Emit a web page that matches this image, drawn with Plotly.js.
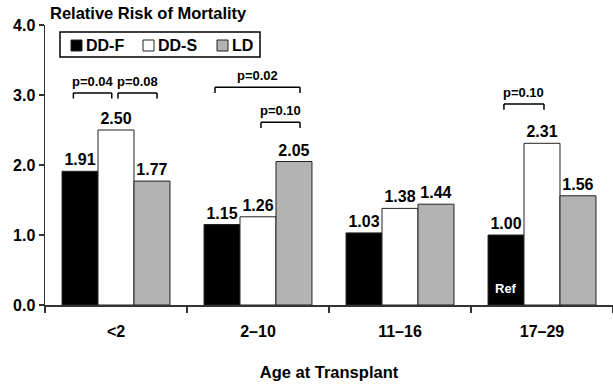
<!DOCTYPE html>
<html>
<head>
<meta charset="utf-8">
<script src="https://cdn.plot.ly/plotly-3.0.1.min.js"></script>
<style>html,body{margin:0;padding:0;background:#fff;}#chart{width:613px;height:386px;}</style>
</head>
<body>
<div id="chart"></div>
<script>
// ---- data ----
const categories = ["<2", "2\u201310", "11\u201316", "17\u201329"];
const seriesNames = ["DD-F", "DD-S", "LD"];
const ddF = [1.91, 1.15, 1.03, 1.00];
const ddS = [2.50, 1.26, 1.38, 2.31];
const ld  = [1.77, 2.05, 1.44, 1.56];
// p-value brackets: [x start, x end, bracket level] in axis units, label
const bracketX0 = [-0.30, 0.014, 0.697, 1.021, 2.732];
const bracketX1 = [-0.03, 0.289, 1.296, 1.296, 3.014];
const bracketY  = [3.03, 3.03, 3.11, 2.61, 2.87];
const bracketP  = ["p=0.04", "p=0.08", "p=0.02", "p=0.10", "p=0.10"];
const refLabel = "Ref";
const refGroup = 3;

// ---- styling ----
const FONT = "Liberation Sans, Arial, Helvetica, sans-serif";
const W = 613, H = 386;
const M = {l: 45, r: 0, t: 25, b: 81};
const plotW = W - M.l - M.r, plotH = H - M.t - M.b;
const px2x = px => (px - M.l) / plotW;
const px2y = py => (H - M.b - py) / plotH;

const bargap = 0.24;
const barW = (1 - bargap) / 3;
const colors = ["#000000", "#ffffff", "#b3b3b3"];
const values = [ddF, ddS, ld];

const traces = seriesNames.map((name, i) => ({
  type: "bar",
  name: name,
  x: categories,
  y: values[i],
  text: values[i].map(v => v.toFixed(2)),
  textposition: "outside",
  textfont: {family: FONT, size: 16, color: "#000", weight: "bold"},
  constraintext: "none",
  cliponaxis: false,
  marker: {color: colors[i], line: {color: "#222", width: 1}},
  hoverinfo: "skip",
  showlegend: false
}));

const shapes = [];
const annotations = [];
const leg = 0.08;
bracketP.forEach((p, i) => {
  const x0 = bracketX0[i], x1 = bracketX1[i], y = bracketY[i];
  const ln = {type: "line", xref: "x", yref: "y", line: {color: "#000", width: 1.5}};
  shapes.push(Object.assign({}, ln, {x0: x0, x1: x1, y0: y, y1: y}));
  shapes.push(Object.assign({}, ln, {x0: x0, x1: x0, y0: y, y1: y - leg}));
  shapes.push(Object.assign({}, ln, {x0: x1, x1: x1, y0: y, y1: y - leg}));
  annotations.push({
    xref: "x", yref: "y", x: (x0 + x1) / 2, y: y, yanchor: "bottom", yshift: 2,
    text: "<b>" + p + "</b>", showarrow: false,
    font: {family: FONT, size: 13, color: "#000"}
  });
});
annotations.push({
  xref: "x", yref: "y", x: refGroup - barW, y: 0.24, yanchor: "middle",
  text: "<b>" + refLabel + "</b>", showarrow: false,
  font: {family: FONT, size: 13, color: "#fff"}
});

// ---- hand-made legend box (matches the original's compact layout) ----
const legBox = {x0: 60, x1: 260, y0: 32, y1: 57};
const legSymX = [71, 143, 217];
const legSymSize = 11;
const legSymTop = 40;
shapes.push({type: "rect", xref: "paper", yref: "paper",
  x0: px2x(legBox.x0), x1: px2x(legBox.x1), y0: px2y(legBox.y1), y1: px2y(legBox.y0),
  line: {color: "#000", width: 1.5}, fillcolor: "#fff", layer: "above"});
seriesNames.forEach((name, i) => {
  shapes.push({type: "rect", xref: "paper", yref: "paper",
    x0: px2x(legSymX[i]), x1: px2x(legSymX[i] + legSymSize),
    y0: px2y(legSymTop + legSymSize), y1: px2y(legSymTop),
    line: {color: "#222", width: 1}, fillcolor: colors[i], layer: "above"});
  annotations.push({xref: "paper", yref: "paper",
    x: px2x(legSymX[i] + legSymSize + 2), y: px2y(legSymTop + legSymSize / 2),
    xanchor: "left", yanchor: "middle", showarrow: false,
    text: "<b>" + name + "</b>", font: {family: FONT, size: 16, color: "#000"}});
});

const layout = {
  width: W, height: H,
  margin: M,
  paper_bgcolor: "#fff", plot_bgcolor: "#fff",
  font: {family: FONT, color: "#000"},
  barmode: "group", bargap: bargap, bargroupgap: 0,
  showlegend: false,
  title: {
    text: "<b>Relative Risk of Mortality</b>",
    font: {family: FONT, size: 16.5, color: "#000"},
    xref: "container", yref: "container", x: 50 / W, xanchor: "left",
    y: 1 - 13 / H, yanchor: "middle"
  },
  xaxis: {
    type: "category", range: [-0.5, 3.5],
    showline: true, linecolor: "#333", linewidth: 1.5,
    ticks: "outside", tickson: "boundaries", ticklen: 6, tickwidth: 1.5, tickcolor: "#333",
    showgrid: false, zeroline: false, fixedrange: true,
    tickfont: {family: FONT, size: 16, color: "#000", weight: "bold"},
    ticklabelstandoff: 11,
    title: {text: "<b>Age at Transplant</b>", font: {family: FONT, size: 16.5, color: "#000"}, standoff: 27}
  },
  yaxis: {
    range: [0, 4], tickvals: [0, 1, 2, 3, 4], tickformat: ".1f",
    showline: true, linecolor: "#333", linewidth: 1.5,
    ticks: "outside", ticklen: 5, tickwidth: 1.5, tickcolor: "#333",
    showgrid: false, zeroline: false, fixedrange: true,
    tickfont: {family: FONT, size: 16, color: "#000", weight: "bold"}
  },
  shapes: shapes,
  annotations: annotations
};

Plotly.newPlot("chart", traces, layout, {displayModeBar: false, staticPlot: true});
</script>
</body>
</html>
